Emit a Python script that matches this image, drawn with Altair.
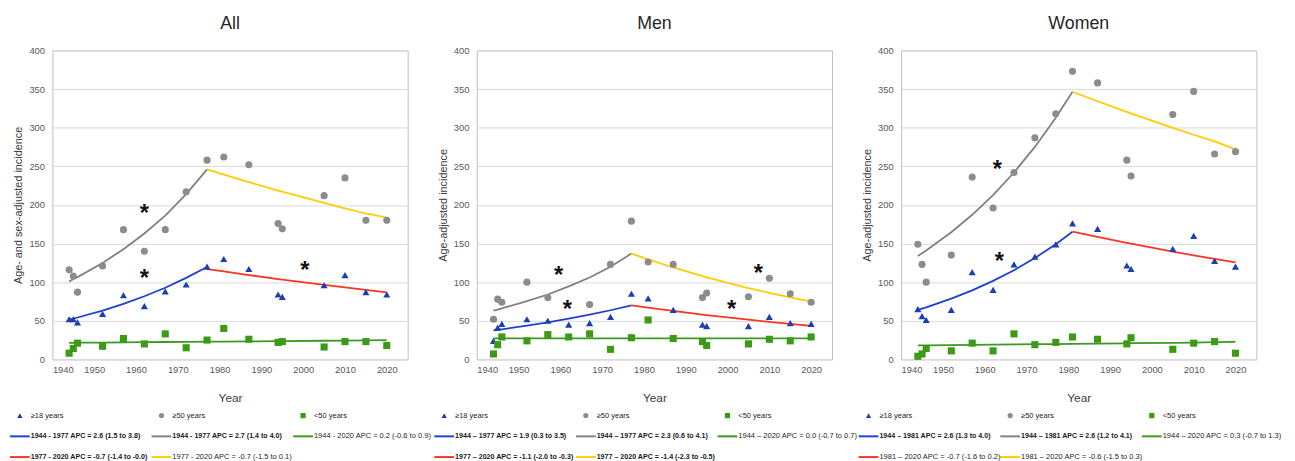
import altair as alt
import pandas as pd

# ---------------- data ----------------
years = [1944, 1945, 1946, 1952, 1957, 1962, 1967, 1972, 1977, 1981, 1987, 1994, 1995, 2005, 2010, 2015, 2020]
x_ticks = [1940, 1950, 1960, 1970, 1980, 1990, 2000, 2010, 2020]
y_ticks = [0, 50, 100, 150, 200, 250, 300, 350, 400]

groups = ["≥18 years", "≥50 years", "<50 years"]
series_keys = ["first ≥18", "first ≥50", "whole <50", "second ≥18", "second ≥50"]
series_group = ["≥18 years", "≥50 years", "<50 years", "≥18 years", "≥50 years"]
series_row = ["first", "first", "first", "second", "second"]
legend_rows = ["marker", "first", "second"]

# --- All ---
all_18 = [52, 52, 48, 59, 83, 69, 88, 97, 120, 130, 117, 84, 81, 96, 109, 87, 84]
all_50 = [116, 108, 87, 121, 168, 140, 168, 217, 258, 262, 252, 176, 169, 212, 235, 180, 180]
all_lt50 = [8, 14, 21, 17, 27, 20, 33, 15, 25, 40, 26, 22, 23, 16, 23, 23, 18]
all_break = 1977
all_t18_a = [51.5, 52.8, 54.2, 63.2, 71.8, 81.7, 92.8, 105.5, 119.5]
all_t50_a = [101, 103.7, 106.5, 124.9, 142.7, 163.0, 186.2, 214, 246]
all_tlt50 = [21.5, 21.5, 21.6, 21.8, 22.1, 22.3, 22.5, 22.7, 22.9, 23.1, 23.3, 23.6, 23.7, 24.1, 24.4, 24.6, 24.9]
all_t18_b = [117, 113.8, 109.2, 104.0, 103.3, 96.4, 93.1, 89.9, 86.8]
all_t50_b = [246, 239.2, 229.5, 218.6, 217.1, 202.6, 195.6, 188.9, 183.5]
all_star_years = [1962, 1962, 2000.4]
all_star_values = [196, 111, 122]
all_labels = ["1944 - 1977 APC = 2.6 (1.5 to 3.8)", "1944 - 1977 APC = 2.7 (1.4 to 4.0)",
              "1944 - 2020 APC = 0.2 (-0.6 to 0.9)", "1977 - 2020 APC = -0.7 (-1.4 to -0.0)",
              "1977 - 2020 APC = -0.7 (-1.5 to 0.1)"]
all_bold = [True, True, False, True, False]

# --- Men ---
men_18 = [24, 41, 46, 52, 50, 45, 47, 55, 85, 79, 64, 45, 43, 43, 55, 47, 46]
men_50 = [52, 78, 74, 100, 80, None, 71, 123, 179, 126, 123, 80, 86, 81, 105, 85, 74]
men_lt50 = [7, 19, 29, 24, 32, 29, 33, 13, 28, 51, 27, 23, 18, 20, 26, 24, 29]
men_break = 1977
men_t18_a = [37.5, 38.2, 38.9, 43.6, 47.9, 52.7, 57.9, 63.6, 70]
men_t50_a = [63, 64.5, 66, 75.5, 84, 94.5, 106, 120, 137]
men_tlt50 = [27.3, 27.3, 27.3, 27.3, 27.3, 27.3, 27.3, 27.3, 27.3, 27.3, 27.3, 27.3, 27.3, 27.3, 27.3, 27.3, 27.3]
men_t18_b = [70, 67.0, 62.7, 58.0, 57.3, 51.4, 48.6, 46.0, 43.5]
men_t50_b = [137, 129.5, 119, 107.8, 106.3, 92.3, 86.1, 80.2, 74.7]
men_star_years = [1959.6, 1961.7, 2007.4, 2001]
men_star_values = [115.5, 71.6, 118.5, 71.6]
men_labels = ["1944 – 1977 APC = 1.9 (0.3 to 3.5)", "1944 – 1977 APC = 2.3 (0.6 to 4.1)",
              "1944 – 2020 APC = 0.0 (-0.7 to 0.7)", "1977 – 2020 APC = -1.1 (-2.0 to -0.3)",
              "1977 – 2020 APC = -1.4 (-2.3 to -0.5)"]
men_bold = [True, True, False, True, True]

# --- Women ---
women_18 = [65, 56, 51, 64, 113, 90, 123, 133, 149, 176, 169, 121.5, 117, 143, 160, 127.5, 120]
women_50 = [149, 123, 100, 135, 236, 196, 242, 287, 318, 373, 358, 258, 237.5, 317, 347, 266, 269]
women_lt50 = [4, 7, 14, 11, 21, 11, 33, 19, 22, 29, 26, 20, 28, 13, 21, 23, 8]
women_break = 1981
women_t18_a = [64, 65.7, 67.4, 78.6, 89.4, 101.6, 115.4, 131.2, 149.1, 165.3]
women_t50_a = [134, 137.5, 141.1, 164.6, 187.2, 212.8, 242, 275.1, 312.8, 346.5]
women_tlt50 = [18, 18.05, 18.1, 18.4, 18.7, 19.0, 19.3, 19.6, 19.8, 20.1, 20.4, 20.8, 20.9, 21.5, 21.8, 22.2, 22.6]
women_t18_b = [165.3, 158.5, 150.9, 149.8, 139.6, 134.8, 130.1, 125.6]
women_t50_b = [346.5, 334.2, 320.4, 318.5, 299.8, 290.9, 282.3, 272]
women_star_years = [1963, 1963.5]
women_star_values = [253, 133.5]
women_labels = ["1944 – 1981 APC = 2.6 (1.3 to 4.0)", "1944 – 1981 APC = 2.6 (1.2 to 4.1)",
                "1944 – 2020 APC = 0.3 (-0.7 to 1.3)", "1981 – 2020 APC = -0.7 (-1.6 to 0.2)",
                "1981 – 2020 APC = -0.6 (-1.5 to 0.3)"]
women_bold = [True, True, False, False, False]

# ---------------- styles ----------------
SANS = "Liberation Sans, Arial, sans-serif"
fill_scale = alt.Scale(domain=groups, range=["#1a3fb0", "#8c8c8c", "#3c9a16"])
shape_scale = alt.Scale(domain=groups, range=["triangle-up", "circle", "square"])
stroke_scale = alt.Scale(domain=series_keys, range=["#1f3fd2", "#808080", "#3a9a22", "#ff3322", "#ffcc00"])


def panel(name, y_title, s18, s50, slt50, brk, trends, star_years, star_values, labels, bold):
    pts = []
    for g, vals in zip(groups, [s18, s50, slt50]):
        for yr, v in zip(years, vals):
            if v is not None:
                pts.append({"year": yr, "value": v, "group": g})
    pts = pd.DataFrame(pts)

    first_years = [y for y in years if y <= brk]
    second_years = [y for y in years if y >= brk]
    tr = []
    for key, yrs, vals in zip(series_keys, [first_years, first_years, years, second_years, second_years], trends):
        for yr, v in zip(yrs, vals):
            tr.append({"year": yr, "value": v, "series": key})
    tr = pd.DataFrame(tr)

    stars = pd.DataFrame({"year": star_years, "value": star_values})

    x_enc = alt.X("year:Q", scale=alt.Scale(domain=[1940, 2025], nice=False, zero=False),
                  axis=alt.Axis(values=x_ticks, format="d", title="Year", grid=False, ticks=False,
                                domain=False, labelPadding=5, titlePadding=19, titleFontSize=12))
    y_enc = alt.Y("value:Q", scale=alt.Scale(domain=[0, 400], nice=False),
                  axis=alt.Axis(values=y_ticks, title=y_title, grid=True, ticks=False, domain=False,
                                labelPadding=8, titlePadding=5, titleFontSize=11))

    lines = alt.Chart(tr).mark_line(strokeWidth=1.8).encode(
        x=x_enc, y=y_enc,
        stroke=alt.Stroke("series:N", scale=stroke_scale, legend=None))
    points = alt.Chart(pts).mark_point(filled=True, size=52, opacity=1).encode(
        x=x_enc, y=y_enc,
        fill=alt.Fill("group:N", scale=fill_scale, legend=None),
        shape=alt.Shape("group:N", scale=shape_scale, legend=None))
    star = alt.Chart(stars).mark_text(text="*", fontSize=24, font=SANS, fontWeight="bold",
                                      color="#111111", baseline="middle", dy=6).encode(x=x_enc, y=y_enc)

    plot = alt.layer(lines, points, star).properties(
        width=360, height=313,
        title=alt.Title(text=name, fontSize=18, fontWeight="normal", font=SANS, color="#262626",
                        offset=13, anchor="middle", frame="group"))

    leg = []
    for g in groups:
        leg.append({"group": g, "row": "marker", "kind": "marker", "label": g, "bold": False, "series": ""})
    for key, g, r, lab, b in zip(series_keys, series_group, series_row, labels, bold):
        leg.append({"group": g, "row": r, "kind": "line", "label": lab, "bold": b, "series": key})
    leg = pd.DataFrame(leg)

    lx = alt.X("group:N", scale=alt.Scale(domain=groups, range=[-33, 254], padding=0), axis=None)
    ly = alt.Y("row:N", scale=alt.Scale(domain=legend_rows, padding=0), axis=None)
    base = alt.Chart(leg)
    lmark = base.mark_point(filled=True, size=28, opacity=1).encode(
        x=lx, y=ly,
        fill=alt.Fill("group:N", scale=fill_scale, legend=None),
        shape=alt.Shape("group:N", scale=shape_scale, legend=None)).transform_filter("datum.kind == 'marker'")
    lline = base.mark_point(shape="stroke", filled=False, size=400, strokeWidth=2, opacity=1).encode(
        x=lx, y=ly,
        stroke=alt.Stroke("series:N", scale=stroke_scale, legend=None)).transform_filter("datum.kind == 'line'")
    ltext = base.mark_text(align="left", baseline="middle", dx=11, fontSize=7.6, font=SANS,
                           color="#262626").encode(x=lx, y=ly, text="label:N").transform_filter("!datum.bold")
    ltextb = base.mark_text(align="left", baseline="middle", dx=11, fontSize=7.2, font=SANS,
                            fontWeight="bold", color="#1a1a1a").encode(x=lx, y=ly, text="label:N").transform_filter("datum.bold")
    legend = alt.layer(lmark, lline, ltext, ltextb).properties(
        width=360, height=42, view=alt.ViewBackground(stroke="transparent"))

    return plot, legend


p_all, l_all = panel("All", "Age- and sex-adjusted incidence", all_18, all_50, all_lt50, all_break,
                     [all_t18_a, all_t50_a, all_tlt50, all_t18_b, all_t50_b],
                     all_star_years, all_star_values, all_labels, all_bold)
p_men, l_men = panel("Men", "Age-adjusted incidence", men_18, men_50, men_lt50, men_break,
                     [men_t18_a, men_t50_a, men_tlt50, men_t18_b, men_t50_b],
                     men_star_years, men_star_values, men_labels, men_bold)
p_women, l_women = panel("Women", "Age-adjusted incidence", women_18, women_50, women_lt50, women_break,
                         [women_t18_a, women_t50_a, women_tlt50, women_t18_b, women_t50_b],
                         women_star_years, women_star_values, women_labels, women_bold)

chart = alt.concat(p_all, p_men, p_women, l_all, l_men, l_women, columns=3,
                   spacing={"row": 57, "column": 70}, bounds="flush").properties(
    padding={"left": -3, "top": 3, "right": 4, "bottom": 0}
).configure_view(
    stroke="#bfbfbf", strokeWidth=1
).configure_axis(
    labelFont=SANS, labelFontSize=9.5, labelColor="#595959",
    titleFont=SANS, titleFontWeight="normal", titleColor="#404040",
    gridColor="#d9d9d9", gridWidth=1
)

chart.save("out.html", embed_options={"renderer": "svg", "actions": False})
